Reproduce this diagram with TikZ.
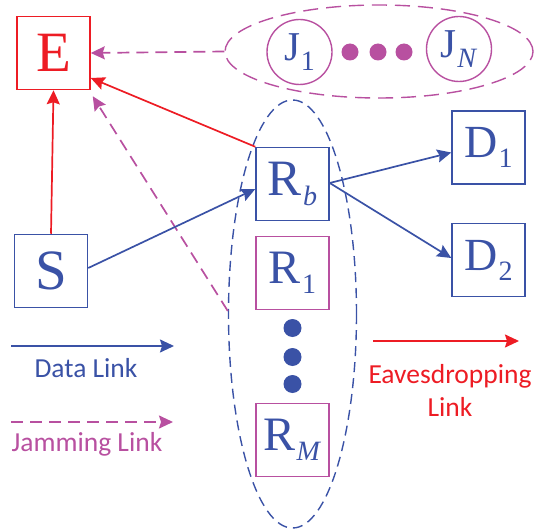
\documentclass[tikz,border=0pt]{standalone}
\usepackage{fontspec}
\setmainfont{Liberation Serif}
\newfontfamily\legendfont{Carlito}
\usepackage{tikz}
\usetikzlibrary{arrows.meta, calc, positioning, shapes.geometric}
\usepackage{xcolor}

\definecolor{linkblue}{RGB}{58,82,166}
\definecolor{linkred}{RGB}{237,28,36}
\definecolor{linkpurple}{RGB}{184,80,160}

% letter with a subscript, in the serif font
\newcommand{\nodelbl}[3]{{\fontsize{#1}{#1}\selectfont #2}\kern1pt\raisebox{-10pt}{\fontsize{28}{28}\selectfont #3}}

\tikzset{
    box/.style={draw, line width=1.5pt, rectangle, minimum size=73pt, inner sep=0pt},
    jbox/.style={draw=linkpurple, line width=1.4pt, circle, minimum size=65pt, inner sep=0pt, text=linkblue},
    group/.style={draw, line width=1.4pt, ellipse, inner sep=0pt},
    tip/.style={-{Stealth[length=14pt, width=13pt, inset=2pt]}},
    datalink/.style={tip, linkblue, line width=1.7pt},
    eavlink/.style={tip, linkred, line width=1.7pt},
    jamlink/.style={tip, linkpurple, line width=1.7pt, dash pattern=on 12pt off 7pt},
    legend/.style={font=\legendfont\fontsize{27.5}{33}\selectfont, align=center}
}

\begin{document}
\begin{tikzpicture}[x=1pt, y=-1pt]
    \useasboundingbox (0,0) rectangle (536,532);

    % groups
    \node[group, draw=linkblue, dash pattern=on 10pt off 6pt, minimum width=128pt, minimum height=428pt] (Rell) at (292.5,314) {};
    \node[group, draw=linkpurple, dash pattern=on 15pt off 8pt, minimum width=308pt, minimum height=93pt] (Jell) at (379,51.5) {};

    % nodes
    \node[box, draw=linkred, text=linkred, font=\fontsize{57}{57}\selectfont] (E) at (53.5,53) {E};
    \node[box, draw=linkblue, text=linkblue, font=\fontsize{57}{57}\selectfont] (S) at (51,271) {S};
    \node[box, draw=linkblue, text=linkblue] (Rb) at (292.5,184) {\nodelbl{51}{R}{\textit{b}}};
    \node[box, draw=linkpurple, text=linkblue] (R1) at (292.5,273) {\nodelbl{48}{R}{1}};
    \node[box, draw=linkpurple, text=linkblue] (RM) at (292.5,440) {\nodelbl{48}{R}{\textit{M}}};
    \node[box, draw=linkblue, text=linkblue] (D1) at (488.5,147.5) {\nodelbl{46}{D}{1}};
    \node[box, draw=linkblue, text=linkblue] (D2) at (488.5,260) {\nodelbl{46}{D}{2}};
    \node[jbox] (J1) at (299.5,52) {\nodelbl{41}{J}{1}};
    \node[jbox] (JN) at (459,49) {\nodelbl{41}{J}{\textit{N}}};

    % dots
    \foreach \x in {350,378,404}
        \fill[linkpurple] (\x,52) circle (8.5pt);
    \foreach \y in {328,357,384}
        \fill[linkblue] (292.5,\y) circle (9pt);

    % links
    \draw[eavlink] (S.north) -- (E.south);
    \draw[eavlink] (Rb.north west) -- ([yshift=-25pt]E.east);
    \draw[jamlink] (Jell.west) -- (E.east);
    \draw[jamlink] ([yshift=3pt]Rell.west) -- ([xshift=2pt, yshift=-6pt]E.south east);
    \draw[datalink] ([yshift=3pt]S.east) -- ([yshift=-5pt]Rb.west);
    \draw[datalink] ([yshift=1pt]Rb.east) -- ([yshift=-5pt]D1.west);
    \draw[datalink] ([yshift=1pt]Rb.east) -- ([yshift=2pt]D2.west);

    % legend
    \coordinate (dataA) at (11,346);
    \coordinate (dataB) at (174,346);
    \draw[datalink] (dataA) -- (dataB);
    \node[legend, text=linkblue] (dataTxt) at (86,368) {Data Link};

    \coordinate (jamA) at (11,422);
    \coordinate (jamB) at (173,422);
    \draw[jamlink] (jamA) -- (jamB);
    \node[legend, text=linkpurple] (jamTxt) at (87,444) {Jamming Link};

    \coordinate (eavA) at (373,341);
    \coordinate (eavB) at (519,341);
    \draw[eavlink] (eavA) -- (eavB);
    \node[legend, text=linkred] (eavTxt) at (450,390) {Eavesdropping\\Link};
\end{tikzpicture}
\end{document}
